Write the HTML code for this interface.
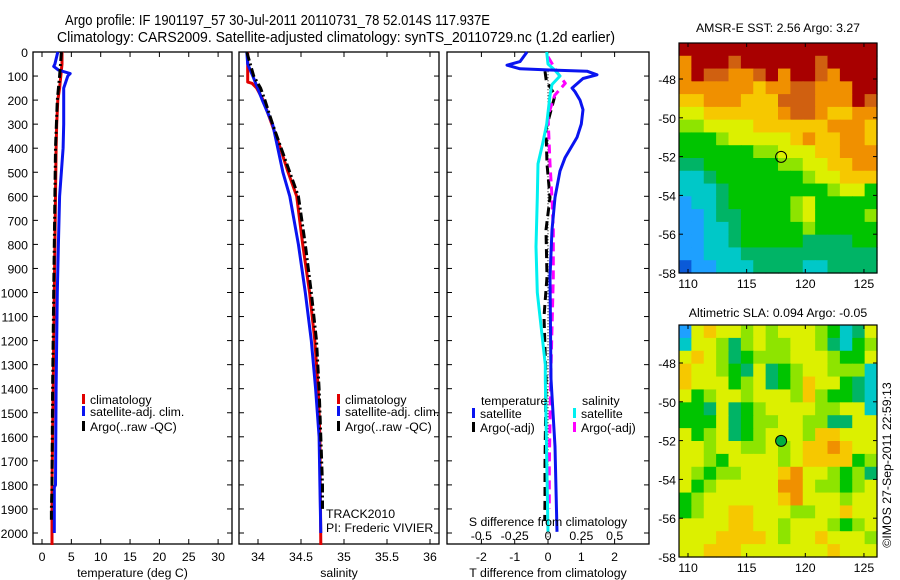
<!DOCTYPE html>
<html><head><meta charset="utf-8"><style>
body{margin:0;background:#fff;}
svg{display:block;font-family:"Liberation Sans",sans-serif;}
</style></head><body>
<svg id="fig" width="900" height="580" viewBox="0 0 900 580">
<text x="65" y="25" font-size="14.5" textLength="425" lengthAdjust="spacingAndGlyphs">Argo profile: IF 1901197_57 30-Jul-2011 20110731_78 52.014S 117.937E</text>
<text x="57" y="42" font-size="14.5" textLength="558" lengthAdjust="spacingAndGlyphs">Climatology: CARS2009. Satellite-adjusted climatology: synTS_20110729.nc (1.2d earlier)</text>
</svg>
<script>
// ---- depth axis shared
const depthTicks=[0,100,200,300,400,500,600,700,800,900,1000,1100,1200,1300,1400,1500,1600,1700,1800,1900,2000];
// ---- panel 1 temperature
const tTicks=[0,5,10,15,20,25,30];
const tClimD=[0,50,100,150,200,300,400,600,800,1000,1200,1400,1600,1800,2050];
const tClimV=[3.4,3.4,3.2,3.0,2.7,2.5,2.4,2.3,2.2,2.1,2.0,1.9,1.8,1.7,1.7];
const tSatD=[0,50,60,75,90,100,150,300,400,600,800,1000,1400,1800,1810,2000];
const tSatV=[2.7,2.2,2.0,2.8,4.8,4.4,3.7,3.7,3.6,3.0,2.8,2.6,2.4,2.3,2.1,2.1];
const tArgoD=[0,100,200,400,600,1000,1400,1800,1900,1950];
const tArgoV=[3.3,3.0,2.6,2.3,2.2,2.0,1.8,1.7,1.6,1.6];
// ---- panel 2 salinity
const sTicks=[34,34.5,35,35.5,36];
const sClimD=[0,100,125,130,150,200,300,400,500,600,800,1000,1200,1400,1600,2050];
const sClimV=[33.88,33.88,33.88,33.93,33.985,34.06,34.16,34.26,34.35,34.45,34.52,34.6,34.66,34.7,34.72,34.73];
const sSatD=[0,50,100,200,300,400,500,600,800,1000,1200,1400,1600,1800,2000];
const sSatV=[33.87,33.88,33.94,34.05,34.17,34.23,34.29,34.37,34.47,34.55,34.62,34.67,34.71,34.72,34.73];
const sArgoD=[0,100,150,200,300,400,500,600,800,1000,1200,1400,1600,1800,1900];
const sArgoV=[33.87,33.95,34.03,34.08,34.17,34.27,34.37,34.47,34.55,34.62,34.68,34.71,34.73,34.75,34.75];
// ---- panel 3 differences
const dtTicks=[-2,-1,0,1,2];
const dsTicks=[-0.5,-0.25,0,0.25,0.5];
const dTSatD=[0,40,55,70,75,80,95,110,150,165,200,240,300,355,440,495,605,740,935,1360,1640,1995];
const dTSatV=[-0.63,-0.84,-1.23,-0.84,0.06,1.17,1.47,1.05,0.72,0.81,0.96,1.05,1.0,0.87,0.51,0.36,0.21,0.12,0.06,0.09,0.21,0.27];
const dSSatD=[0,50,75,100,135,180,300,380,465,605,810,1000,1300,1360,1995];
const dSSatV=[-0.01,0,0.05,0.09,0.03,0.015,-0.01,-0.04,-0.075,-0.08,-0.09,-0.08,-0.02,-0.02,0];
const dTArgoD=[80,120,180,320,465,605,740,935,1100,1360,1720,1860,1950];
const dTArgoV=[-0.09,-0.05,0.21,-0.06,-0.03,0.06,-0.06,-0.03,-0.12,-0.06,-0.09,-0.09,-0.1];
const dSArgoD=[20,90,130,180,265,465,605,740,935,1360,1720,1900];
const dSArgoV=[0,0.075,0.13,0.05,0,0.015,0.03,0.04,0.04,0.02,0.01,0.01];
// ---- maps (color index grids, 16 cols x 18 rows)
const sstGrid=["AAAAAAAAAAAAAAAA","8AAA9AAAAAA9AAAA","8A99889A8AA98AAA","88888878899888AA","77888777999888A9","6677777789987788","5566667777778887","4445666667877887","4444445566677888","3344444455667788","2234444444566777","2223444444445664","1223444445644444","1123344445644445","1122344444544444","1122344444333344","1122233333333333","0112223333223333"];
const slaGrid=["1676656566654236","2665356556653245","6765345556665446","7665436345665552","7666456345766432","6456656665754432","4436345666655662","4446345566553366","6456345666577666","6656655656778766","6654666656777745","6545566678665453","6456666688655456","4566666678666566","4566776665566766","6666776656665456","6667777656676665","6677766666667666"];
const lonTicks=[110,115,120,125];
const latTicks=[-48,-50,-52,-54,-56,-58];
const argoLon=117.937, argoLat=-52.014;

const NS="http://www.w3.org/2000/svg";
const svg=document.getElementById('fig');
const FS=12.3;
function el(tag,attrs,parent){const e=document.createElementNS(NS,tag);for(const k in attrs)e.setAttribute(k,attrs[k]);(parent||svg).appendChild(e);return e;}
function txt(x,y,s,attrs){const t=el('text',Object.assign({x:x,y:y,'font-size':FS},attrs||{}));t.textContent=s;return t;}

const pTop=52,pBot=544;
function yD(d){return pTop+d*0.2405;}

function panel(name,x0,x1,xs,ticksX,labelsX,xlabel,showDepth){
  const g=el('g',{});
  
  
  const r=el('rect',{x:x0,y:pTop,width:x1-x0,height:pBot-pTop,fill:'none',stroke:'#000','stroke-width':1.3},g);
  
  
  ticksX.forEach((v,i)=>{const x=xs(v);
    el('line',{x1:x,x2:x,y1:pTop,y2:pTop+5,stroke:'#000'},g);
    el('line',{x1:x,x2:x,y1:pBot,y2:pBot-5,stroke:'#000'},g);
    if(labelsX){const t=txt(x,561,labelsX[i],{'text-anchor':'middle'});g.appendChild(t);
      
      }
  });
  depthTicks.forEach(d=>{const y=yD(d);
    el('line',{x1:x0,x2:x0+5,y1:y,y2:y,stroke:'#000'},g);
    el('line',{x1:x1,x2:x1-5,y1:y,y2:y,stroke:'#000'},g);
    if(showDepth){const t=txt(x0-5,y+5,String(d),{'text-anchor':'end'});g.appendChild(t);
      
      }
  });
  if(xlabel){const t=txt((x0+x1)/2,577,xlabel,{'text-anchor':'middle'});g.appendChild(t);
    
    }
  return g;
}
function line(ds,vs,xs,color,name,extra){
  const pts=ds.map((d,i)=>xs(vs[i]).toFixed(1)+','+yD(d).toFixed(1)).join(' ');
  const p=el('polyline',Object.assign({points:pts,fill:'none',stroke:color,'stroke-width':3,'stroke-linejoin':'round'},extra||{}));
  
  
  return p;
}
function legendEntry(x,y,color,label,name){
  const g=el('g',{});
  
  
  el('rect',{x:x,y:y-10,width:3,height:10,fill:color},g);
  g.appendChild(txt(x+8,y,label));
}

// Panel 1
const xT=v=>42+v*5.87;
panel('temperature-panel',33,232,xT,tTicks,tTicks.map(String),'temperature (deg C)',true);
line(tClimD,tClimV,xT,'#e00000','temp-climatology-line');
line(tSatD,tSatV,xT,'#0a14f0','temp-satellite-line');
line(tArgoD,tArgoV,xT,'#000','temp-argo-line',{'stroke-dasharray':'9,3,2,3'});
legendEntry(82,404,'#e00000','climatology','legend-climatology-1');
legendEntry(82,416,'#0a14f0','satellite-adj. clim.','legend-satellite-1');
legendEntry(82,431,'#000','Argo(..raw -QC)','legend-argo-1');

// Panel 2
const xS=v=>258+(v-34)*86;
panel('salinity-panel',239,439,xS,sTicks,sTicks.map(String),'salinity',false);
line(sClimD,sClimV,xS,'#e00000','sal-climatology-line');
line(sSatD,sSatV,xS,'#0a14f0','sal-satellite-line');
line(sArgoD,sArgoV,xS,'#000','sal-argo-line',{'stroke-dasharray':'9,3,2,3'});
legendEntry(337,404,'#e00000','climatology','legend-climatology-2');
legendEntry(337,416,'#0a14f0','satellite-adj. clim.','legend-satellite-2');
legendEntry(337,431,'#000','Argo(..raw -QC)','legend-argo-2');
txt(326,518,'TRACK2010',{});
txt(326,532,'PI: Frederic VIVIER',{});

// Panel 3
const xDT=v=>548+v*33.3;
const xDS=v=>548+v*133.3;
panel('difference-panel',447,649,xDT,dtTicks,dtTicks.map(String),'T difference from climatology',false);
const zl=el('line',{x1:548,x2:548,y1:yD(80),y2:pBot,stroke:'#000','stroke-width':1,'stroke-dasharray':'1,2'});


line(dTArgoD,dTArgoV,xDT,'#000','dT-argo-line',{'stroke-dasharray':'9,5'});
line(dSArgoD,dSArgoV,xDS,'#ff00ff','dS-argo-line',{'stroke-dasharray':'9,5'});
line(dSSatD,dSSatV,xDS,'#00f0f0','dS-satellite-line');
line(dTSatD,dTSatV,xDT,'#0a14f0','dT-satellite-line');
txt(481,405,'temperature',{});
txt(582,405,'salinity',{});
legendEntry(472,418,'#0a14f0','satellite','legend-temp-satellite');
legendEntry(472,432,'#000','Argo(-adj)','legend-temp-argo');
legendEntry(573,418,'#00f0f0','satellite','legend-sal-satellite');
legendEntry(573,432,'#ff00ff','Argo(-adj)','legend-sal-argo');
txt(548,526,'S difference from climatology',{'text-anchor':'middle',});
dsTicks.forEach(v=>{const t=txt(xDS(v),540,String(v),{'text-anchor':'middle'});
  
  });

// Maps
const cmap={'0':'#0a5ad8','1':'#1ea0ff','2':'#00c8c8','3':'#00b466','4':'#00c400','5':'#8ee400','6':'#dcf000','7':'#f6c800','8':'#f09000','9':'#d06010','A':'#a80000'};
function mapPanel(name,grid,y0,y1,lat48y,title,titleY,fillMarker){
  const x0=679,x1=877;
  const g=el('g',{});
  
  
  const rows=grid.length,cols=grid[0].length;
  const cw=(x1-x0)/cols,ch=(y1-y0)/rows;
  grid.forEach((row,r)=>{for(let c=0;c<cols;c++){
    const cell=el('rect',{x:(x0+c*cw).toFixed(2),y:(y0+r*ch).toFixed(2),width:(cw+0.6).toFixed(2),height:(ch+0.6).toFixed(2),fill:cmap[row[c]]},g);
    
    
  }});
  el('rect',{x:x0,y:y0,width:x1-x0,height:y1-y0,fill:'none',stroke:'#000','stroke-width':1.2},g);
  const lx=v=>688+(v-110)*11.73;
  const ly=v=>lat48y+(-48-v)/2*((y1-lat48y)/5);
  lonTicks.forEach(v=>{const x=lx(v);
    el('line',{x1:x,x2:x,y1:y1,y2:y1-4,stroke:'#000'},g);
    el('line',{x1:x,x2:x,y1:y0,y2:y0+4,stroke:'#000'},g);
    const t=txt(x,y1+15,String(v),{'text-anchor':'middle'});g.appendChild(t);
    
    });
  latTicks.forEach(v=>{const y=ly(v);
    el('line',{x1:x0,x2:x0+4,y1:y,y2:y,stroke:'#000'},g);
    el('line',{x1:x1,x2:x1-4,y1:y,y2:y,stroke:'#000'},g);
    const t=txt(x0-3,y+5,String(v),{'text-anchor':'end'});g.appendChild(t);
    
    });
  const m=el('circle',{cx:lx(argoLon),cy:ly(argoLat),r:5.5,fill:fillMarker||'none',stroke:'#000','stroke-width':1},g);
  
  
  const t=txt(778,titleY,title,{'text-anchor':'middle'});g.appendChild(t);
  
  
}
mapPanel('sst-map',sstGrid,43,273,79,'AMSR-E SST: 2.56 Argo: 3.27',32,null);
mapPanel('sla-map',slaGrid,325,557,363,'Altimetric SLA: 0.094 Argo: -0.05',317,'#00b040');
txt(0,0,'©IMOS 27-Sep-2011 22:59:13',{'text-anchor':'middle','transform':'translate(891,465) rotate(-90)',});
</script>
</body></html>
